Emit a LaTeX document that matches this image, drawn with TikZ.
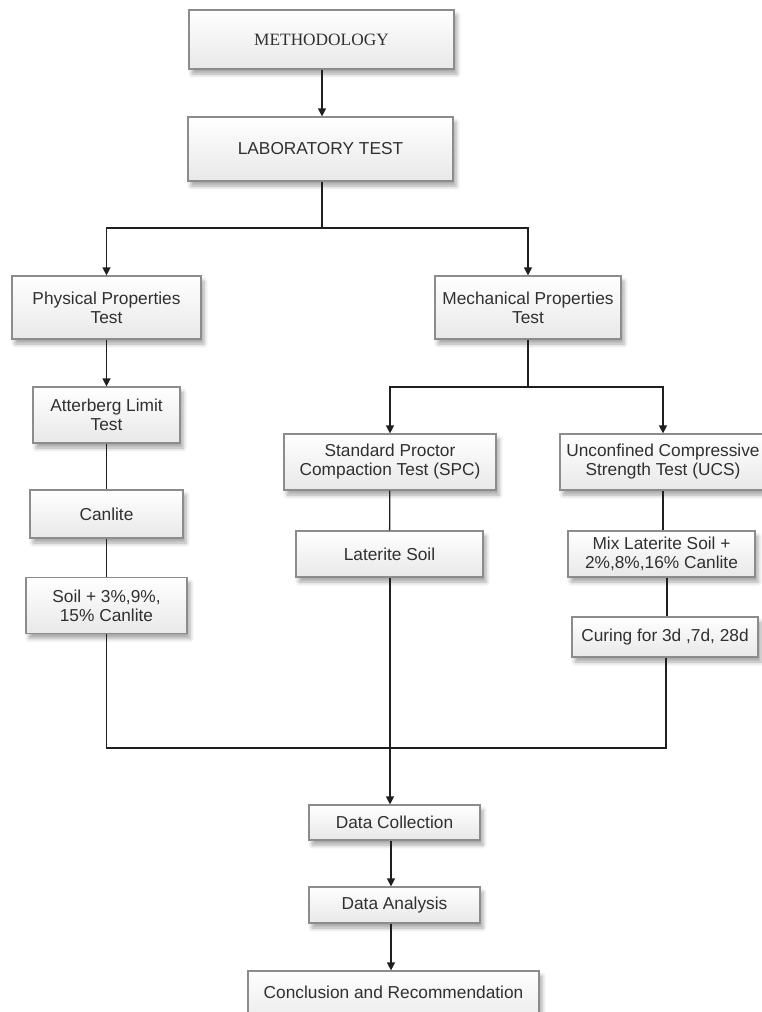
\documentclass[tikz,border=0pt]{standalone}
\usepackage{fontspec}
\setmainfont{Liberation Sans}
\newfontfamily\tnr{Liberation Serif}
\usetikzlibrary{arrows.meta,shadows.blur}
\definecolor{txt}{HTML}{303030}
\definecolor{bord}{HTML}{8C8C8C}
\tikzset{
  box/.style={draw=bord, line width=1.2pt, top color=white, bottom color=black!9,
    inner sep=2pt, align=center, text=txt, font=\fontsize{17.3}{19}\selectfont,
    blur shadow={shadow xshift=3pt, shadow yshift=-5pt, shadow blur radius=4pt, shadow opacity=35}},
  conn/.style={draw=black!88, line width=1.3pt},
  arr/.style={conn, -{Triangle[length=8pt,width=8pt]}}
}
\begin{document}
\begin{tikzpicture}[x=1pt,y=-1pt]
\useasboundingbox (0,0) rectangle (762,1012);
\clip (0,0) rectangle (762,1012);
\node[box, minimum width=265pt, minimum height=59pt, font=\tnr\fontsize{17.3}{19}\selectfont] (meth) at (321.5,39.5) {METHODOLOGY};
\node[box, minimum width=265pt, minimum height=64pt] (lab) at (320.5,149) {LABORATORY TEST};
\node[box, minimum width=189pt, minimum height=63pt] (phys) at (106.5,307.5) {Physical Properties\\Test};
\node[box, minimum width=186pt, minimum height=63pt] (mech) at (528,307.5) {Mechanical Properties\\Test};
\node[box, minimum width=147pt, minimum height=56pt] (att) at (106.5,415) {Atterberg Limit\\Test};
\node[box, minimum width=153pt, minimum height=48pt] (canl) at (106.5,514) {Canlite};
\node[box, minimum width=161pt, minimum height=56pt] (soil) at (106.5,605.5) {Soil + 3\%,9\%,\\15\% Canlite};
\node[box, minimum width=212pt, minimum height=56pt] (spc) at (390,462) {Standard Proctor\\Compaction Test (SPC)};
\node[box, minimum width=206pt, minimum height=56pt] (ucs) at (663,462) {Unconfined Compressive\\Strength Test (UCS)};
\node[box, minimum width=187pt, minimum height=46pt] (lat) at (389.5,554) {Laterite Soil};
\node[box, minimum width=187pt, minimum height=46pt] (mix) at (661.5,554) {Mix Laterite Soil +\\2\%,8\%,16\% Canlite};
\node[box, minimum width=186pt, minimum height=40pt] (cur) at (665,637) {Curing for 3d ,7d, 28d};
\node[box, minimum width=171pt, minimum height=35pt] (dc) at (394.5,822.5) {Data Collection};
\node[box, minimum width=171pt, minimum height=36pt] (da) at (394.5,905) {Data Analysis};
\node[box, minimum width=291pt, minimum height=55pt, text depth=0pt] (conc) at (393.5,998.5) {\raisebox{12pt}{Conclusion and Recommendation}};
\coordinate (j1) at (322,228);
\coordinate (j2) at (528,387);
\coordinate (j3) at (390,748);
% connectors
\draw[arr] (meth.south -| 322,0) -- (lab.north -| 322,0);
\draw[conn] (lab.south -| j1) -- (j1);
\draw[arr] (j1) -| (phys.north);
\draw[arr] (j1) -| (mech.north);
\draw[arr] (phys) -- (att);
\draw[conn] (att) -- (canl);
\draw[conn] (canl) -- (soil);
\draw[conn] (mech.south) -- (j2);
\draw[arr] (j2) -| (spc.north);
\draw[arr] (j2) -| (ucs.north);
\draw[conn] (spc) -- (lat);
\draw[conn] (ucs.south) -- (ucs.south |- mix.north);
\draw[conn] (mix.south -| 667,0) -- (cur.north -| 667,0);
\draw[conn] (soil.south) |- (j3);
\draw[conn] (cur.south -| 666,0) |- (j3);
\draw[arr] (lat.south -| j3) -- (dc.north -| j3);
\draw[arr] (dc.south -| 391,0) -- (da.north -| 391,0);
\draw[arr] (da.south -| 391,0) -- (conc.north -| 391,0);
\end{tikzpicture}
\end{document}
